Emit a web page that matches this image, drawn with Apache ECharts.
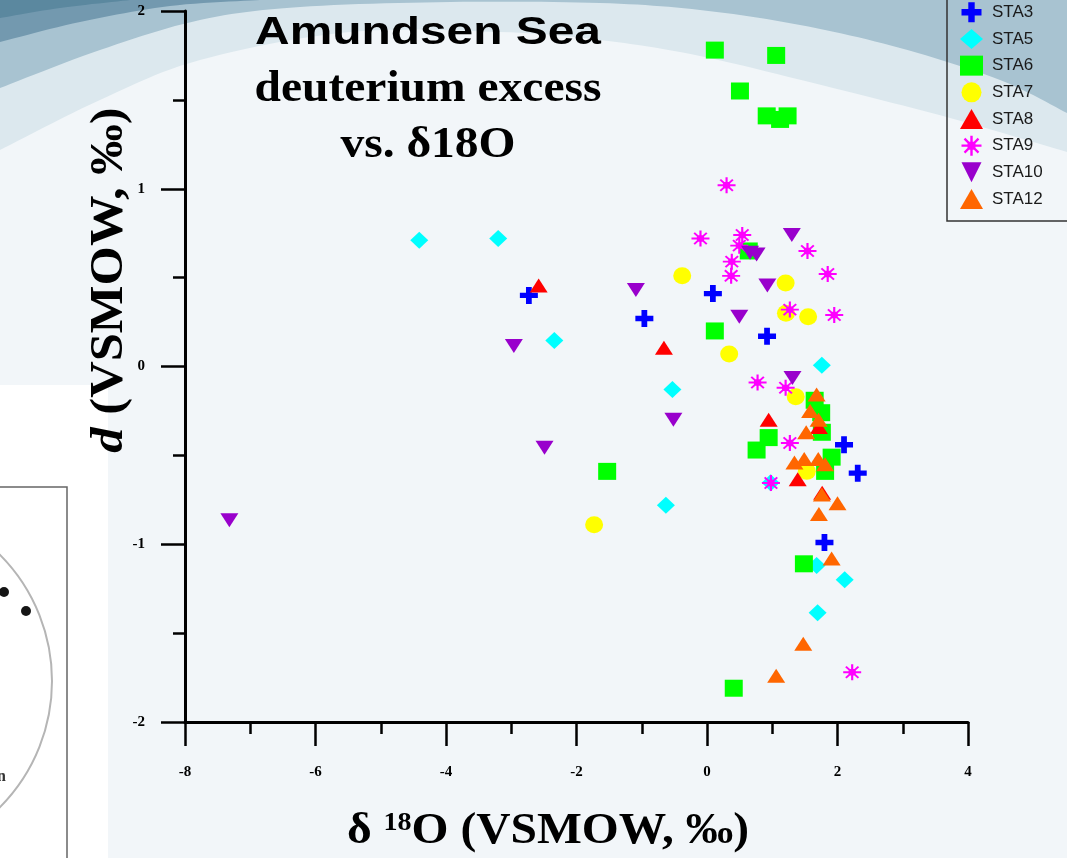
<!DOCTYPE html>
<html>
<head>
<meta charset="utf-8">
<script src="https://cdn.jsdelivr.net/npm/echarts@6/dist/echarts.min.js"></script>
<style>
html,body{margin:0;padding:0;background:#f2f6f9;}
#chart{width:1067px;height:858px;}
</style>
</head>
<body>
<div id="chart"></div>
<script>
// ---- data (x = δ18O, y = d) ----
const seriesNames = ['STA3','STA5','STA6','STA7','STA8','STA9','STA10','STA12'];
const xTicks = [-8,-6,-4,-2,0,2,4];
const yTicks = [-2,-1,0,1,2];

const sta3 = [[-2.73,0.40],[-0.96,0.27],[0.09,0.41],[0.92,0.17],[2.10,-0.44],[2.31,-0.60],[1.80,-0.99]];
const sta5 = [[-4.41,0.71],[-3.20,0.72],[-2.34,0.146],[-0.53,-0.13],[-0.63,-0.78],[1.76,0.007],[0.975,-0.654],[1.68,-1.12],[2.11,-1.20],[1.695,-1.385]];
const sta6 = [[0.12,1.78],[1.06,1.75],[0.505,1.55],[0.915,1.41],[1.12,1.39],[1.235,1.41],[0.64,0.65],[0.12,0.20],[-1.53,-0.59],[0.945,-0.40],[0.76,-0.47],[1.65,-0.19],[1.75,-0.26],[1.76,-0.37],[1.91,-0.51],[1.81,-0.59],[1.485,-1.11],[0.41,-1.81]];
const sta7 = [[-0.38,0.51],[0.34,0.07],[1.205,0.47],[1.21,0.30],[1.55,0.28],[1.36,-0.17],[1.53,-0.59],[-1.73,-0.89]];
const sta8 = [[-2.58,0.455],[-0.66,0.105],[0.945,-0.30],[1.715,-0.34],[1.39,-0.635],[1.765,-0.71]];
const sta9 = [[0.30,1.02],[-0.10,0.72],[0.54,0.74],[0.495,0.68],[0.38,0.59],[0.37,0.51],[1.54,0.65],[1.85,0.52],[1.27,0.32],[1.95,0.29],[0.775,-0.09],[1.205,-0.12],[1.27,-0.43],[0.98,-0.655],[2.225,-1.72]];
const sta10 = [[-7.32,-0.865],[-1.09,0.43],[-2.96,0.115],[1.30,0.74],[0.66,0.64],[0.76,0.63],[0.925,0.455],[0.495,0.28],[-0.515,-0.30],[-2.49,-0.457],[1.31,-0.065]];
const sta12 = [[1.68,-0.157],[1.58,-0.25],[1.71,-0.30],[1.52,-0.37],[1.34,-0.54],[1.49,-0.52],[1.705,-0.52],[1.81,-0.55],[1.76,-0.72],[2.00,-0.77],[1.715,-0.83],[1.91,-1.08],[1.475,-1.56],[1.06,-1.74]];

// ---- styles ----
const SERIF = '"Liberation Serif","Times New Roman",serif';
const SANS = '"Liberation Sans",Arial,sans-serif';
const CROSS = 'path://M34 0 L66 0 L66 34 L100 34 L100 66 L66 66 L66 100 L34 100 L34 66 L0 66 L0 34 L34 34 Z';
const STAR = 'path://M44 0 L56 0 L56 100 L44 100 Z M0 44 L100 44 L100 56 L0 56 Z M11 19 L19 11 L89 81 L81 89 Z M81 11 L89 19 L19 89 L11 81 Z M30 30 L70 30 L70 70 L30 70 Z';
const TRI_DOWN = 'path://M0 0 L100 0 L50 100 Z';

const seriesStyle = [
  {data: sta3, symbol: CROSS, size: [18,17], color: '#0000ff'},
  {data: sta5, symbol: 'diamond', size: [18,17], color: '#00ffff'},
  {data: sta6, symbol: 'rect', size: [18,17], color: '#00ff00'},
  {data: sta7, symbol: 'circle', size: [18,17], color: '#ffff00'},
  {data: sta8, symbol: 'triangle', size: [18,14], color: '#ff0000'},
  {data: sta9, symbol: STAR, size: [18,16], color: '#ff00ff'},
  {data: sta10, symbol: TRI_DOWN, size: [18,14], color: '#9900cc'},
  {data: sta12, symbol: 'triangle', size: [18,14], color: '#ff6600'}
];

// ---- decorative background bands ----
function catmull(pts, n) {
  const out = [];
  for (let i = 0; i < pts.length - 1; i++) {
    const p0 = pts[Math.max(i - 1, 0)], p1 = pts[i], p2 = pts[i + 1], p3 = pts[Math.min(i + 2, pts.length - 1)];
    for (let k = 0; k < n; k++) {
      const t = k / n, t2 = t * t, t3 = t2 * t;
      const f = (a, b, c, d) => 0.5 * ((2 * b) + (-a + c) * t + (2 * a - 5 * b + 4 * c - d) * t2 + (-a + 3 * b - 3 * c + d) * t3);
      out.push([f(p0[0], p1[0], p2[0], p3[0]), f(p0[1], p1[1], p2[1], p3[1])]);
    }
  }
  out.push(pts[pts.length - 1]);
  return out;
}
function band(ctrl, color) {
  const c = catmull(ctrl, 12);
  const last = c[c.length - 1];
  const pts = [[-5, -5]].concat([[-5, c[0][1]]], c, [[last[0] + 5, last[1]], [last[0] + 5, -5]]);
  return {type: 'polygon', z: -10, silent: true, shape: {points: pts}, style: {fill: color}};
}

const graphics = [
  band([[0,150],[100,100],[200,60],[350,32],[500,32],[600,40],[700,56],[833,88],[950,118],[1067,152]], '#dce8ee'),
  band([[0,88],[100,50],[200,20],[300,7],[450,2],[600,3],[700,10],[800,25],[900,48],[1000,80],[1067,113]], '#a8c3d1'),
  band([[0,42],[80,22],[170,6],[260,0]], '#7399af'),
  band([[0,18],[60,8],[130,0]], '#5b889f'),
  // inset picture in the lower left
  {type: 'rect', z: -9, silent: true, shape: {x: 0, y: 385, width: 108, height: 480}, style: {fill: '#ffffff'}},
  {type: 'rect', z: -8, silent: true, shape: {x: -10, y: 487, width: 77, height: 400}, style: {fill: '#ffffff', stroke: '#666', lineWidth: 1.5}},
  {type: 'circle', z: -7, silent: true, shape: {cx: -127, cy: 681, r: 179}, style: {fill: 'none', stroke: '#b5b5b5', lineWidth: 2}},
  {type: 'circle', z: -7, silent: true, shape: {cx: 4, cy: 592, r: 5}, style: {fill: '#151515'}},
  {type: 'circle', z: -7, silent: true, shape: {cx: 26, cy: 611, r: 5}, style: {fill: '#151515'}},
  {type: 'text', z: -7, silent: true, x: -3, y: 777, style: {text: 'n', font: 'bold 16px ' + SERIF, fill: '#333', verticalAlign: 'middle', textVerticalAlign: 'middle'}},
  // legend frame
  {type: 'rect', z: 50, silent: true, shape: {x: 947, y: -10, width: 200, height: 231}, style: {fill: 'none', stroke: '#333', lineWidth: 1.5}},
  // titles
  {type: 'text', z: 60, x: 428, y: 34, scaleX: 1.26, style: {text: 'Amundsen Sea', font: 'bold 38px ' + SANS, fill: '#000', align: 'center', textAlign: 'center', verticalAlign: 'middle', textVerticalAlign: 'middle'}},
  {type: 'text', z: 60, x: 428, y: 90, scaleX: 1.08, style: {text: 'deuterium excess', font: 'bold 44px ' + SERIF, fill: '#000', align: 'center', textAlign: 'center', verticalAlign: 'middle', textVerticalAlign: 'middle'}},
  {type: 'text', z: 60, x: 428, y: 146, scaleX: 1.08, style: {text: 'vs. δ18O', font: 'bold 44px ' + SERIF, fill: '#000', align: 'center', textAlign: 'center', verticalAlign: 'middle', textVerticalAlign: 'middle'}},
  // axis titles
  {type: 'text', z: 60, x: 548, y: 832, scaleX: 1.08, style: {
    text: '{a|δ }{s|18}{a|O (VSMOW, ‰)}', align: 'center', textAlign: 'center', verticalAlign: 'middle', textVerticalAlign: 'middle',
    rich: {a: {fontFamily: SERIF, fontWeight: 'bold', fontSize: 44, fill: '#000', color: '#000'},
           s: {fontFamily: SERIF, fontWeight: 'bold', fontSize: 26, fill: '#000', color: '#000', verticalAlign: 'top', padding: [0,0,14,0]}}
  }},
  {type: 'text', z: 60, x: 110, y: 280, rotation: Math.PI / 2, scaleX: 1.1, style: {
    text: '{i|d}{a| (VSMOW, ‰)}', align: 'center', textAlign: 'center', verticalAlign: 'middle', textVerticalAlign: 'middle',
    rich: {a: {fontFamily: SERIF, fontWeight: 'bold', fontSize: 46, fill: '#000', color: '#000'},
           i: {fontFamily: SERIF, fontWeight: 'bold', fontStyle: 'italic', fontSize: 46, fill: '#000', color: '#000'}}
  }}
];

const axisCommon = {
  type: 'value',
  axisLine: {show: true, onZero: false, lineStyle: {color: '#000', width: 3}},
  axisTick: {show: true, length: 24, lineStyle: {color: '#000', width: 2.5}},
  minorTick: {show: true, splitNumber: 2, length: 12, lineStyle: {color: '#000', width: 2.5}},
  splitLine: {show: false},
  minorSplitLine: {show: false}
};

const option = {
  animation: false,
  backgroundColor: '#f2f6f9',
  grid: {left: 185, right: 99, top: 11, bottom: 136, containLabel: false},
  xAxis: Object.assign({}, axisCommon, {
    min: xTicks[0], max: xTicks[xTicks.length - 1], interval: 2,
    axisLabel: {margin: 43, fontFamily: SERIF, fontWeight: 'bold', fontSize: 15, color: '#000'}
  }),
  yAxis: Object.assign({}, axisCommon, {
    min: yTicks[0], max: yTicks[yTicks.length - 1], interval: 1,
    axisLabel: {margin: 40, fontFamily: SERIF, fontWeight: 'bold', fontSize: 15, color: '#000'}
  }),
  legend: {
    orient: 'vertical', left: 960, top: 2.3, padding: 0,
    itemWidth: 23, itemHeight: 20, itemGap: 6.67,
    textStyle: {fontFamily: SANS, fontSize: 17, color: '#1a1a1a', padding: [0,0,0,4]},
    data: seriesNames
  },
  graphic: graphics,
  series: seriesNames.map((name, i) => ({
    type: 'scatter', name: name,
    data: seriesStyle[i].data,
    symbol: seriesStyle[i].symbol,
    symbolSize: seriesStyle[i].size,
    itemStyle: {color: seriesStyle[i].color, opacity: 1},
    emphasis: {disabled: true},
    z: 2 + i
  }))
};

const chart = echarts.init(document.getElementById('chart'), null, {renderer: 'canvas'});
chart.setOption(option);
</script>
</body>
</html>
